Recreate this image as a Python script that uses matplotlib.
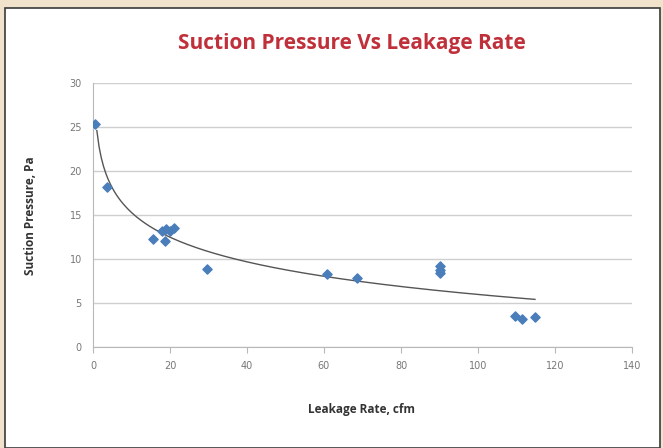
import numpy as np
from matplotlib import pyplot as plt
from matplotlib.patches import Rectangle

# leakage rate (cfm) vs suction pressure (Pa)
leakage = [0.5, 3.6, 15.6, 18.0, 18.7, 19.0, 20.0, 21.0, 29.6,
           60.8, 68.6, 90.0, 90.0, 90.0, 109.6, 111.5, 114.8]
pressure = [25.3, 18.2, 12.3, 13.2, 12.1, 13.4, 13.2, 13.5, 8.9,
            8.3, 7.8, 8.4, 8.8, 9.2, 3.5, 3.2, 3.4]

x_ticks = [0, 20, 40, 60, 80, 100, 120, 140]
y_ticks = [0, 5, 10, 15, 20, 25, 30]

# logarithmic trendline, as Excel would draw it
lx = np.log(np.clip(leakage, 1, None))
b, a = np.polyfit(lx, pressure, 1)
xs = np.linspace(1, max(leakage), 200)
ys = a + b * np.log(xs)

fig = plt.figure(figsize=(6.63, 4.48), dpi=100)
fig.patch.set_facecolor('#f1e2cb')
# white panel with dark frame
fig.patches.append(Rectangle((5 / 663, 0), 655 / 663, 1 - 8 / 448,
                             transform=fig.transFigure, facecolor='white',
                             edgecolor='#3a3a3a', linewidth=1.2, zorder=-1))

ax = fig.add_axes([93 / 663, 1 - 347 / 448, 539 / 663, 264 / 448])
ax.set_zorder(2)
ax.set_facecolor('white')
ax.plot(xs, ys, color='#555555', linewidth=1.0, zorder=2)
ax.scatter(leakage, pressure, marker='D', s=22, color='#4a7ebb', zorder=3)

ax.set_xlim(0, 140)
ax.set_ylim(0, 30)
ax.set_xticks(x_ticks)
ax.set_yticks(y_ticks)
ax.yaxis.grid(True, color='#cfcfcf', linewidth=1.0)
ax.set_axisbelow(True)
for side in ['top', 'right']:
    ax.spines[side].set_visible(False)
for side in ['left', 'bottom']:
    ax.spines[side].set_color('#b8b8b8')
ax.tick_params(axis='both', colors='#b8b8b8', labelcolor='#777777',
               labelsize=7, length=4)
ax.tick_params(axis='y', length=0, pad=8)
ax.tick_params(axis='x', pad=6)

fig.text(352 / 663, 1 - 44 / 448, 'Suction Pressure Vs Leakage Rate',
         ha='center', va='center', fontsize=15, fontweight='bold',
         color='#c0303a', family='Open Sans')
fig.text(362 / 663, 1 - 409 / 448, 'Leakage Rate, cfm', ha='center',
         va='center', fontsize=8.5, fontweight='bold', color='#333333',
         family='Open Sans')
fig.text(31 / 663, 1 - 216 / 448, 'Suction Pressure, Pa', ha='center',
         va='center', rotation=90, fontsize=8.5, fontweight='bold',
         color='#333333', family='Open Sans')

plt.savefig('out.png', dpi=100, facecolor=fig.get_facecolor())
